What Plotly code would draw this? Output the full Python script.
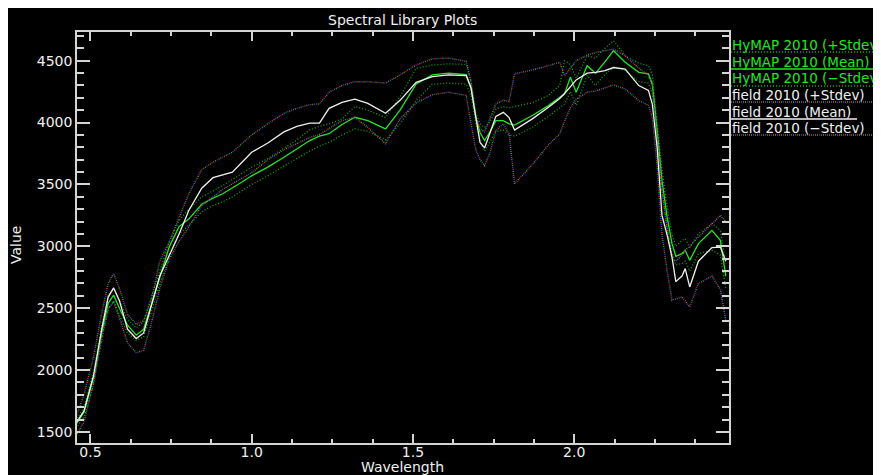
import plotly.graph_objects as go

# Wavelength (micrometres) shared by all spectra
wavelength = [0.455, 0.48, 0.51, 0.535, 0.555, 0.572, 0.59, 0.615, 0.642, 0.665, 0.69, 0.715,
              0.745, 0.775, 0.805, 0.845, 0.88, 0.91, 0.94, 0.97, 1.0, 1.05, 1.10, 1.14, 1.18,
              1.21, 1.24, 1.28, 1.32, 1.36, 1.415, 1.46, 1.51, 1.56, 1.61, 1.665, 1.68, 1.695,
              1.708, 1.722, 1.738, 1.757, 1.78, 1.798, 1.815, 1.87, 1.92, 1.955, 1.97, 1.988,
              2.006, 2.04, 2.066, 2.095, 2.122, 2.158, 2.2, 2.23, 2.242, 2.257, 2.272, 2.288,
              2.303, 2.315, 2.334, 2.344, 2.358, 2.385, 2.427, 2.453, 2.47]

hymap_plus = [1590, 1700, 1990, 2360, 2600, 2660, 2560, 2410, 2340, 2390, 2600, 2800,
              3040, 3210, 3300, 3400, 3450, 3490, 3540, 3590, 3640, 3710, 3790, 3860, 3940,
              3970, 3990, 4030, 4130, 4100, 4040, 4210, 4440, 4465, 4475, 4470, 4330, 4080,
              3990, 3960, 4000, 4110, 4130, 4120, 4130, 4160, 4220, 4300, 4500, 4470,
              4360, 4540, 4520, 4600, 4661, 4540, 4480, 4460, 4390, 4000, 3620, 3320,
              3100, 3000, 3049, 3060, 2990, 3102, 3183, 3129, 2860]

hymap_mean = [1560, 1660, 1940, 2300, 2540, 2605, 2500, 2363, 2282, 2330, 2540, 2750,
              3000, 3160, 3220, 3340, 3390, 3425, 3470, 3520, 3570, 3640, 3720, 3790, 3855,
              3890, 3910, 3985, 4043, 4016, 3949, 4100, 4312, 4385, 4400, 4387, 4280, 4043,
              3920, 3855, 3922, 4016, 4016, 3990, 3980, 4057, 4137, 4205, 4232, 4366,
              4245, 4460, 4398, 4490, 4581, 4487, 4406, 4393, 4312, 3936, 3532, 3236,
              3022, 2920, 2941, 2968, 2887, 3022, 3129, 3049, 2760]

hymap_minus = [1530, 1620, 1890, 2240, 2480, 2560, 2440, 2300, 2240, 2270, 2480, 2700,
               2930, 3100, 3170, 3280, 3330, 3360, 3400, 3450, 3500, 3570, 3650, 3710, 3770,
               3810, 3840, 3900, 3950, 3930, 3860, 3990, 4180, 4310, 4320, 4310, 4220, 4000,
               3850, 3770, 3840, 3930, 3940, 3900, 3890, 3962, 4050, 4120, 4150, 4250,
               4140, 4380, 4300, 4390, 4446, 4420, 4330, 4320, 4230, 3880, 3450, 3150,
               2940, 2850, 2861, 2880, 2800, 2940, 2968, 2930, 2650]

field_plus = [1620, 1800, 2110, 2460, 2700, 2780, 2660, 2450, 2370, 2400, 2580, 2880,
              3040, 3230, 3425, 3620, 3680, 3720, 3760, 3830, 3900, 3990, 4075, 4115, 4145,
              4151, 4245, 4300, 4330, 4330, 4320, 4385, 4465, 4515, 4522, 4495, 4330, 4050,
              3950, 3925, 4030, 4150, 4180, 4170, 4395, 4425, 4460, 4487, 4380, 4440,
              4500, 4545, 4565, 4580, 4594, 4540, 4440, 4380, 4300, 3900, 3450, 3150,
              2900, 2880, 2930, 2968, 3000, 3075, 3183, 3250, 3200]

field_mean = [1570, 1670, 1960, 2330, 2590, 2664, 2560, 2330, 2255, 2300, 2530, 2760,
              2930, 3100, 3290, 3470, 3555, 3580, 3600, 3680, 3760, 3835, 3925, 3970, 3995,
              3995, 4115, 4164, 4190, 4155, 4075, 4180, 4325, 4372, 4385, 4380, 4280, 4040,
              3840, 3795, 3920, 4050, 4083, 4040, 3940, 4030, 4124, 4195, 4235, 4290,
              4345, 4400, 4405, 4420, 4445, 4433, 4299, 4260, 4150, 3800, 3250, 3090,
              2914, 2715, 2760, 2820, 2672, 2880, 2990, 2994, 2880]

field_minus = [1470, 1580, 1900, 2270, 2500, 2550, 2420, 2220, 2140, 2160, 2390, 2660,
               2900, 3040, 3156, 3330, 3400, 3460, 3505, 3550, 3595, 3700, 3780, 3830, 3880,
               3905, 3950, 4016, 4043, 3960, 3828, 4030, 4160, 4225, 4245, 4220, 3990, 3780,
               3700, 3653, 3750, 3936, 3990, 3909, 3506, 3660, 3820, 3909, 4010, 4120,
               4190, 4245, 4255, 4280, 4304, 4272, 4178, 4140, 4040, 3650, 3100, 2800,
               2565, 2575, 2591, 2560, 2511, 2700, 2760, 2650, 2400]

legend_labels = ["HyMAP 2010 (+Stdev)", "HyMAP 2010 (Mean)", "HyMAP 2010 (\u2212Stdev)",
                 "field 2010 (+Stdev)", "field 2010 (Mean)", "field 2010 (\u2212Stdev)"]

GREEN = "#22e622"
GREEN_DOT = "#10a810"
WHITE = "#f0f0f0"
AXIS = "#d4d4d4"
FONT = "DejaVu Sans"

# The page has an 8px body margin, so page coords = figure coords + 8
OFF = 8
W, H = 881, 475
PL, PR, PT, PB = 77, 729, 32, 443          # plot box in page pixels
ML, MT = PL - OFF, PT - OFF
MR, MB = W - (PR - OFF), H - (PB - OFF)
PW, PH = PR - PL, PB - PT

def px(xp):
    return (xp - PL) / PW

def py(yp):
    return (PB - yp) / PH

# multi-coloured dotted pattern (red / green / blue dots)
RGB_DOTS = [("#ff2a2a", "1px,5px"), ("#20c020", "0px,2px,1px,3px"), ("#3a3aff", "0px,4px,1px,1px")]

fig = go.Figure()

def add_dotted_green(y):
    fig.add_trace(go.Scatter(x=wavelength, y=y, mode="lines", showlegend=False, hoverinfo="skip",
                             line=dict(color=GREEN_DOT, width=1.3, dash="1px,2px")))

def add_rgb_dotted(y):
    for col, dash in RGB_DOTS:
        fig.add_trace(go.Scatter(x=wavelength, y=y, mode="lines", showlegend=False, hoverinfo="skip",
                                 line=dict(color=col, width=1.4, dash=dash)))

add_dotted_green(hymap_plus)
fig.add_trace(go.Scatter(x=wavelength, y=hymap_mean, mode="lines", showlegend=False,
                         line=dict(color=GREEN, width=1.3)))
add_dotted_green(hymap_minus)
add_rgb_dotted(field_plus)
fig.add_trace(go.Scatter(x=wavelength, y=field_mean, mode="lines", showlegend=False,
                         line=dict(color=WHITE, width=1.3)))
add_rgb_dotted(field_minus)

# Manual legend (text with style-sample underline), clipped by the page edge
shapes = []
annotations = []
text_y = [45, 62, 78, 95, 111.5, 128]
under_y = [52, 69, 86, 102, 119, 135]
under_end = [881, 876, 881, 872, 857, 873]
for i, lab in enumerate(legend_labels):
    col = GREEN if i < 3 else WHITE
    annotations.append(dict(x=px(730), y=py(text_y[i]), xref="paper", yref="paper", text=lab,
                            showarrow=False, xanchor="left", yanchor="middle",
                            font=dict(family=FONT, size=13.5, color=col)))
    x0, x1, yy = px(731), px(under_end[i]), py(under_y[i])
    if i == 1:
        shapes.append(dict(type="line", xref="paper", yref="paper", x0=x0, x1=x1, y0=yy, y1=yy,
                           line=dict(color=GREEN, width=1.3)))
    elif i == 4:
        shapes.append(dict(type="line", xref="paper", yref="paper", x0=x0, x1=x1, y0=yy, y1=yy,
                           line=dict(color=WHITE, width=1.3)))
    elif i < 3:
        shapes.append(dict(type="line", xref="paper", yref="paper", x0=x0, x1=x1, y0=yy, y1=yy,
                           line=dict(color=GREEN_DOT, width=1.3, dash="1px,2px")))
    else:
        for c, d in RGB_DOTS:
            shapes.append(dict(type="line", xref="paper", yref="paper", x0=x0, x1=x1, y0=yy, y1=yy,
                               line=dict(color=c, width=1.4, dash=d)))

annotations += [
    dict(x=px(402.5), y=py(20), xref="paper", yref="paper", text="Spectral Library Plots",
         showarrow=False, xanchor="center", yanchor="middle",
         font=dict(family=FONT, size=14, color=WHITE)),
    dict(x=px(402), y=py(467), xref="paper", yref="paper", text="Wavelength",
         showarrow=False, xanchor="center", yanchor="middle",
         font=dict(family=FONT, size=14, color=WHITE)),
    dict(x=px(16), y=py(245), xref="paper", yref="paper", text="Value", textangle=-90,
         showarrow=False, xanchor="center", yanchor="middle",
         font=dict(family=FONT, size=14, color=WHITE)),
]

fig.update_layout(
    width=W, height=H,
    margin=dict(l=ML, r=MR, t=MT, b=MB, pad=0),
    paper_bgcolor="black", plot_bgcolor="black",
    showlegend=False,
    shapes=shapes, annotations=annotations,
    font=dict(family=FONT, size=14, color=WHITE),
)
fig.update_xaxes(
    range=[0.4584, 2.4798], showgrid=False, zeroline=False,
    showline=True, linecolor=AXIS, linewidth=1.5, mirror="allticks",
    ticks="inside", tickcolor=AXIS, ticklen=9, tickwidth=1.5,
    tick0=0.5, dtick=0.5, tickformat=".1f", ticklabelstandoff=-5,
    tickfont=dict(family=FONT, size=14, color=WHITE),
    minor=dict(ticks="inside", ticklen=4, tickcolor=AXIS, tickwidth=1.5, dtick=0.125, tick0=0.5, showgrid=False),
)
fig.update_yaxes(
    range=[1411, 4732], showgrid=False, zeroline=False,
    showline=True, linecolor=AXIS, linewidth=1.5, mirror="allticks",
    ticks="inside", tickcolor=AXIS, ticklen=13, tickwidth=1.5,
    tick0=1500, dtick=500,
    tickfont=dict(family=FONT, size=14, color=WHITE),
    minor=dict(ticks="inside", ticklen=7, tickcolor=AXIS, tickwidth=1.5, dtick=100, tick0=1500, showgrid=False),
)

fig.write_html("out.html")
